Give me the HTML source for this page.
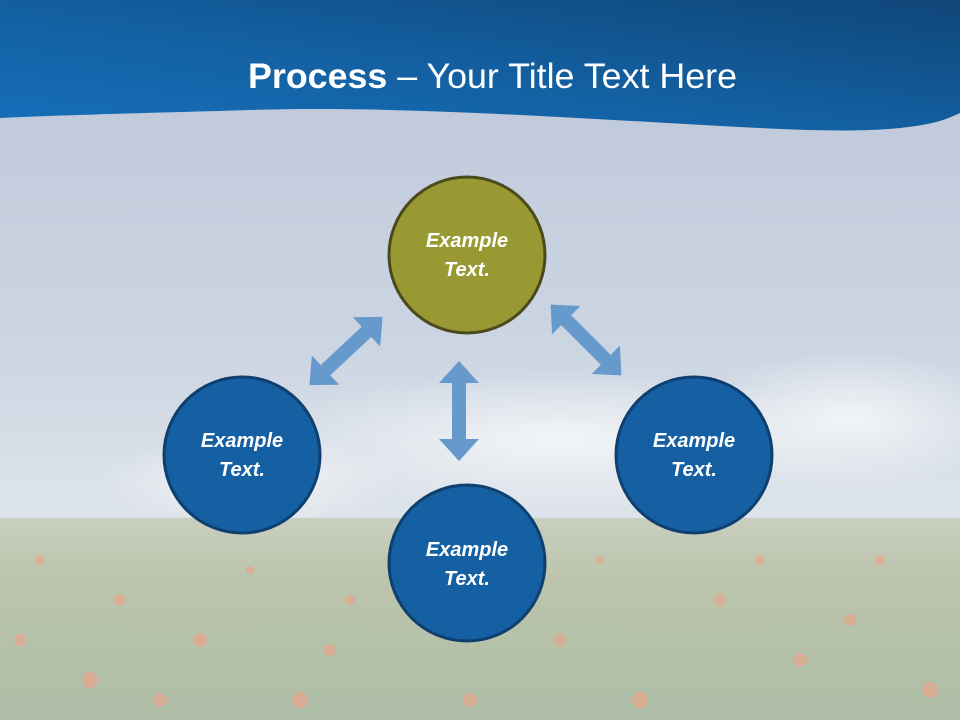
<!DOCTYPE html>
<html><head><meta charset="utf-8"><style>
html,body{margin:0;padding:0;width:960px;height:720px;overflow:hidden}
svg{display:block}
text{font-family:"Liberation Sans","DejaVu Sans",sans-serif}
</style></head><body>
<svg width="960" height="720" viewBox="0 0 960 720" xmlns="http://www.w3.org/2000/svg">
<defs>
<linearGradient id="sky" x1="0" y1="0" x2="0" y2="1">
<stop offset="0" stop-color="#bcc5d8"/><stop offset="0.5" stop-color="#cdd6e3"/><stop offset="0.7" stop-color="#dde3ea"/><stop offset="1" stop-color="#e4e8ec"/>
</linearGradient>
<linearGradient id="field" x1="0" y1="0" x2="0" y2="1">
<stop offset="0" stop-color="#c9cfbf"/><stop offset="0.3" stop-color="#bcc4ac"/><stop offset="1" stop-color="#aebea6"/>
</linearGradient>
<linearGradient id="ban" x1="0" y1="1" x2="1" y2="0">
<stop offset="0" stop-color="#1670bb"/><stop offset="0.5" stop-color="#135e9f"/><stop offset="1" stop-color="#0f4678"/>
</linearGradient>
<radialGradient id="cloud" cx="0.5" cy="0.5" r="0.5">
<stop offset="0" stop-color="#f4f6f8" stop-opacity="0.95"/><stop offset="1" stop-color="#f4f6f8" stop-opacity="0"/>
</radialGradient>
<g id="arr"><polygon points="-50,0 -28,-20 -28,-7 28,-7 28,-20 50,0 28,20 28,7 -28,7 -28,20" fill="#6699cc"/></g>
</defs>
<rect width="960" height="720" fill="url(#sky)"/>
<ellipse cx="560" cy="440" rx="300" ry="70" fill="url(#cloud)"/>
<ellipse cx="850" cy="420" rx="160" ry="70" fill="url(#cloud)"/>
<ellipse cx="250" cy="480" rx="150" ry="45" fill="url(#cloud)"/>
<rect y="518" width="960" height="202" fill="url(#field)"/>
<g fill="#e8a58c" opacity="0.7">
<circle cx="40" cy="560" r="5"/><circle cx="120" cy="600" r="6"/><circle cx="200" cy="640" r="7"/><circle cx="90" cy="680" r="8"/><circle cx="300" cy="700" r="8"/>
<circle cx="350" cy="600" r="5"/><circle cx="560" cy="640" r="6"/><circle cx="640" cy="700" r="8"/><circle cx="720" cy="600" r="6"/><circle cx="800" cy="660" r="7"/>
<circle cx="880" cy="560" r="5"/><circle cx="930" cy="690" r="8"/><circle cx="600" cy="560" r="4"/><circle cx="250" cy="570" r="4"/><circle cx="850" cy="620" r="6"/>
<circle cx="20" cy="640" r="6"/><circle cx="160" cy="700" r="7"/><circle cx="760" cy="560" r="5"/><circle cx="470" cy="700" r="7"/><circle cx="330" cy="650" r="6"/>
</g>
<path d="M0,0 H960 V113 C945,120 935,124 900,128 C840,134 760,128 650,122 C520,115 380,106 250,110 C150,113 60,115 0,118 Z" fill="url(#ban)"/>
<text x="248" y="88" textLength="489" lengthAdjust="spacingAndGlyphs" font-size="35" fill="#fff"><tspan font-weight="bold">Process</tspan> – Your Title Text Here</text>
<use href="#arr" transform="translate(459,411) rotate(90)"/>
<use href="#arr" transform="translate(346,351) rotate(-43)"/>
<use href="#arr" transform="translate(586,340) rotate(45)"/>
<g stroke-width="3" font-size="20" font-weight="bold" font-style="italic" fill="#fff" text-anchor="middle">
<circle cx="467" cy="255" r="78" fill="#989933" stroke="#4b4a1d"/>
<circle cx="242" cy="455" r="78" fill="#1560a3" stroke="#0e3f6e"/>
<circle cx="694" cy="455" r="78" fill="#1560a3" stroke="#0e3f6e"/>
<circle cx="467" cy="563" r="78" fill="#1560a3" stroke="#0e3f6e"/>
<g stroke="none">
<text x="467" y="247">Example</text><text x="467" y="276">Text.</text>
<text x="242" y="447">Example</text><text x="242" y="476">Text.</text>
<text x="694" y="447">Example</text><text x="694" y="476">Text.</text>
<text x="467" y="556">Example</text><text x="467" y="585">Text.</text>
</g></g>
</svg>
</body></html>
